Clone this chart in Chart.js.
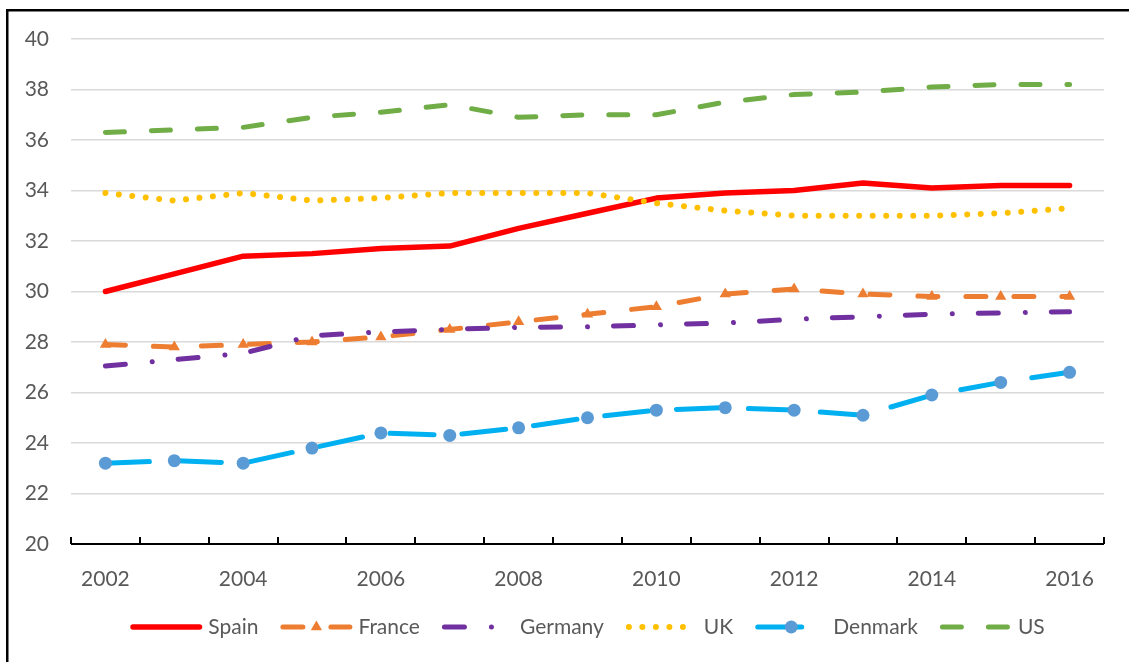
<!DOCTYPE html>
<html>
<head>
<meta charset="utf-8">
<script src="https://cdn.jsdelivr.net/npm/chart.js@4/dist/chart.umd.min.js"></script>
<style>
  html, body { margin: 0; padding: 0; background: #fff; }
  #wrap { width: 1129px; height: 662px; position: relative; }
</style>
</head>
<body>
<div id="wrap"><canvas id="chart"></canvas></div>
<script>
// Years on the category axis (only every other one is labelled)
const years = ['2002','2003','2004','2005','2006','2007','2008','2009','2010','2011','2012','2013','2014','2015','2016'];

// Series values per year
const spain   = [30.0, 30.7, 31.4, 31.5, 31.7, 31.8, 32.5, 33.1, 33.7, 33.9, 34.0, 34.3, 34.1, 34.2, 34.2];
const france  = [27.9, 27.8, 27.9, 28.0, 28.2, 28.5, 28.8, 29.1, 29.4, 29.9, 30.1, 29.9, 29.8, 29.8, 29.8];
const germany = [27.05, 27.3, 27.55, 28.25, 28.4, 28.5, 28.58, 28.6, 28.68, 28.75, 28.9, 29.0, 29.1, 29.15, 29.2];
const uk      = [33.9, 33.6, 33.9, 33.6, 33.7, 33.9, 33.9, 33.9, 33.5, 33.2, 33.0, 33.0, 33.0, 33.1, 33.3];
const denmark = [23.2, 23.3, 23.2, 23.8, 24.4, 24.3, 24.6, 25.0, 25.3, 25.4, 25.3, 25.1, 25.9, 26.4, 26.8];
const us      = [36.3, 36.4, 36.5, 36.9, 37.1, 37.4, 36.9, 37.0, 37.0, 37.5, 37.8, 37.9, 38.1, 38.2, 38.2];

// Value axis range
const yMin = 20, yMax = 40, yStep = 2;

const FONT = 'Lato';
const FONT_SIZE = 21;
const TEXT_COLOR = '#595959';

function series(label, data, color, width, dash, extra) {
  return Object.assign({
    label, data,
    borderColor: color,
    backgroundColor: color,
    borderWidth: width,
    borderDash: dash,
    borderCapStyle: 'round',
    borderJoinStyle: 'round',
    tension: 0,
    fill: false,
    pointRadius: 0,
    pointHoverRadius: 0
  }, extra || {});
}

const datasets = [
  series('Spain', spain, '#FF0000', 5.5, [], { order: 6 }),
  series('France', france, '#ED7D31', 5, [20, 28], {
    order: 5, pointStyle: 'triangle', pointRadius: 6.5,
    pointBackgroundColor: '#ED7D31', pointBorderColor: '#ED7D31', pointBorderWidth: 0
  }),
  series('Germany', germany, '#7030A0', 5, [20, 27, 0.01, 26], { order: 4 }),
  series('UK', uk, '#FFC000', 6, [0.01, 13.5], { order: 3 }),
  series('Denmark', denmark, '#00B0F0', 5, [44, 28], {
    order: 2, pointStyle: 'circle', pointRadius: 6.5,
    pointBackgroundColor: '#5B9BD5', pointBorderColor: '#5B9BD5', pointBorderWidth: 0
  }),
  series('US', us, '#70AD47', 5, [19, 27], { order: 1 })
];

// Outer frame, x axis line with inward tick marks, and the line-sample legend
const decorations = {
  id: 'decorations',
  afterDraw(chart) {
    const ctx = chart.ctx;
    const area = chart.chartArea;
    const xs = chart.scales.x;
    ctx.save();

    // frame around the figure
    ctx.strokeStyle = '#000';
    ctx.lineWidth = 2.5;
    ctx.setLineDash([]);
    ctx.strokeRect(7.25, 10.25, 1400, 900);

    // category axis line
    ctx.lineWidth = 2;
    ctx.lineCap = 'butt';
    ctx.beginPath();
    ctx.moveTo(area.left, area.bottom);
    ctx.lineTo(area.right, area.bottom);
    ctx.stroke();

    // tick marks between categories, pointing up into the plot
    const step = xs.getPixelForValue(1) - xs.getPixelForValue(0);
    ctx.beginPath();
    for (let i = 0; i <= years.length; i++) {
      const x = Math.round(xs.getPixelForValue(0) - step / 2 + i * step);
      ctx.moveTo(x, area.bottom);
      ctx.lineTo(x, area.bottom - 7);
    }
    ctx.stroke();

    // legend
    ctx.font = FONT_SIZE + 'px ' + FONT;
    ctx.textBaseline = 'middle';
    const SAMPLE = 72, GAP = 6, SPACING = 22;
    const ds = chart.data.datasets;
    const widths = ds.map(d => SAMPLE + GAP + ctx.measureText(d.label).width);
    const total = widths.reduce((a, b) => a + b, 0) + SPACING * (ds.length - 1);
    let x = (area.left + area.right) / 2 - total / 2;
    const y = 627;
    ds.forEach((d, i) => {
      const cap = d.borderWidth / 2;
      ctx.beginPath();
      ctx.setLineDash(d.borderDash || []);
      ctx.lineCap = 'round';
      ctx.lineWidth = d.borderWidth;
      ctx.strokeStyle = d.borderColor;
      ctx.moveTo(x + cap, y);
      ctx.lineTo(x + SAMPLE - cap, y);
      ctx.stroke();
      ctx.setLineDash([]);
      if (d.pointRadius > 0) {
        const cx = x + SAMPLE / 2, r = d.pointRadius;
        ctx.fillStyle = d.pointBackgroundColor;
        ctx.beginPath();
        if (d.pointStyle === 'triangle') {
          ctx.moveTo(cx, y - r);
          ctx.lineTo(cx + r * 0.87, y + r * 0.5);
          ctx.lineTo(cx - r * 0.87, y + r * 0.5);
          ctx.closePath();
        } else {
          ctx.arc(cx, y, r, 0, Math.PI * 2);
        }
        ctx.fill();
      }
      ctx.fillStyle = TEXT_COLOR;
      ctx.textAlign = 'left';
      ctx.fillText(d.label, x + SAMPLE + GAP, y);
      x += widths[i] + SPACING;
    });
    ctx.restore();
  }
};

new Chart(document.getElementById('chart'), {
  type: 'line',
  data: { labels: years, datasets },
  options: {
    responsive: true,
    maintainAspectRatio: false,
    animation: false,
    events: [],
    layout: { padding: { top: 39, right: 25, bottom: 0, left: 0 } },
    plugins: {
      legend: { display: false },
      tooltip: { enabled: false },
      title: { display: false }
    },
    scales: {
      x: {
        type: 'category',
        offset: true,
        grid: { display: false },
        border: { display: false },
        ticks: {
          autoSkip: false,
          maxRotation: 0,
          padding: 15,
          color: TEXT_COLOR,
          font: { family: FONT, size: FONT_SIZE },
          callback: (v, idx) => (idx % 2 === 0 ? years[idx] : '')
        },
        afterFit: s => { s.height = 118; }
      },
      y: {
        min: yMin,
        max: yMax,
        grid: { color: '#D9D9D9', lineWidth: 1.5, drawTicks: false },
        border: { display: false },
        ticks: {
          stepSize: yStep,
          padding: 22,
          color: TEXT_COLOR,
          font: { family: FONT, size: FONT_SIZE }
        },
        afterFit: s => { s.width = 71; }
      }
    }
  },
  plugins: [decorations]
});
</script>
</body>
</html>
